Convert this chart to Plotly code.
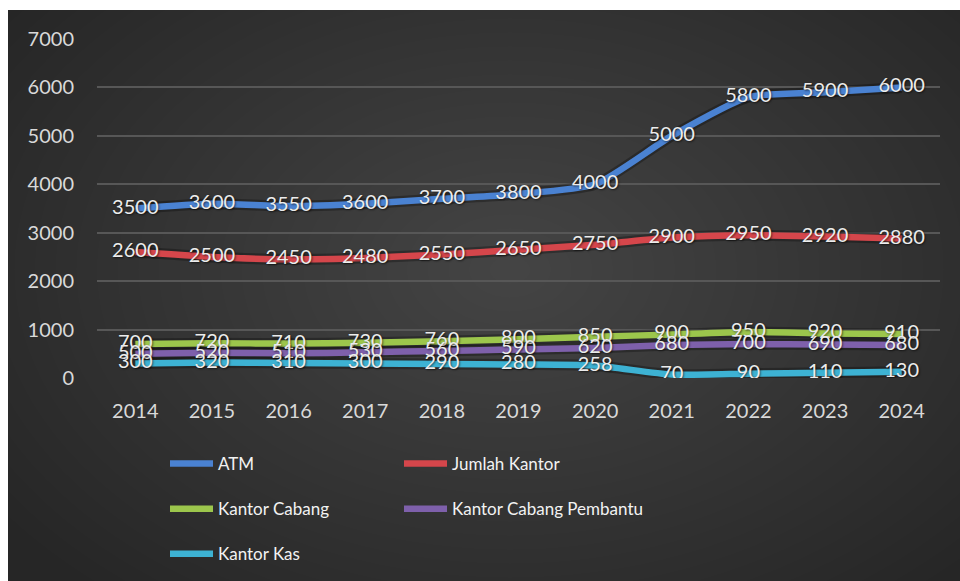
import plotly.graph_objects as go

W, H = 960, 581

years = ["2014", "2015", "2016", "2017", "2018", "2019", "2020", "2021", "2022", "2023", "2024"]
atm = [3500, 3600, 3550, 3600, 3700, 3800, 4000, 5000, 5800, 5900, 6000]
jumlah_kantor = [2600, 2500, 2450, 2480, 2550, 2650, 2750, 2900, 2950, 2920, 2880]
kantor_cabang = [700, 720, 710, 730, 760, 800, 850, 900, 950, 920, 910]
kantor_cabang_pembantu = [500, 520, 510, 530, 560, 590, 620, 680, 700, 690, 680]
kantor_kas = [300, 320, 310, 300, 290, 280, 258, 70, 90, 110, 130]
y_ticks = [0, 1000, 2000, 3000, 4000, 5000, 6000, 7000]

series = [
    ("ATM", atm, "#4a82d2", "legend"),
    ("Jumlah Kantor", jumlah_kantor, "#d5464b", "legend2"),
    ("Kantor Cabang", kantor_cabang, "#9cc64c", "legend"),
    ("Kantor Cabang Pembantu", kantor_cabang_pembantu, "#7e60ab", "legend2"),
    ("Kantor Kas", kantor_kas, "#3db2d3", "legend"),
]

FONT = "Lato, 'Open Sans', sans-serif"
fig = go.Figure()

# shadows
for name, vals, color, lg in series:
    fig.add_trace(go.Scatter(x=years, y=vals, mode="lines",
                             line=dict(color="rgba(0,0,0,0.28)", width=11, shape="spline", smoothing=0.6),
                             showlegend=False, hoverinfo="skip"))
# lines
for name, vals, color, lg in series:
    fig.add_trace(go.Scatter(x=years, y=vals, mode="lines", name=name,
                             line=dict(color=color, width=6.5, shape="spline", smoothing=0.6),
                             legend=lg, legendgroup=name))
# labels on top
for name, vals, color, lg in series:
    fig.add_trace(go.Scatter(x=years, y=vals, mode="text", text=[str(v) for v in vals],
                             textposition="middle center",
                             textfont=dict(family=FONT, size=20, color="#ececec",
                                           shadow="1px 1px 2px rgba(0,0,0,0.6)"),
                             showlegend=False, hoverinfo="skip"))

# background: dark panel with radial glow
shapes = [dict(type="rect", xref="paper", yref="paper", x0=8 / W, x1=1, y0=0, y1=1 - 10 / H,
               fillcolor="#262626", line=dict(width=0), layer="below")]
N = 30
cx, cy = 510, 270
rx, ry = 620, 420
for k in range(N, 0, -1):
    f = k / N
    shapes.append(dict(type="circle", xref="paper", yref="paper",
                       x0=(cx - rx * f) / W, x1=(cx + rx * f) / W,
                       y0=1 - (cy + ry * f) / H, y1=1 - (cy - ry * f) / H,
                       fillcolor="rgba(255,255,255,0.0085)", line=dict(width=0), layer="below"))

fig.update_layout(
    width=W, height=H,
    margin=dict(l=0, r=0, t=0, b=0),
    paper_bgcolor="white",
    plot_bgcolor="rgba(0,0,0,0)",
    shapes=shapes,
    xaxis=dict(type="category", domain=[97 / W, 940 / W], range=[-0.5, 10.5],
               showgrid=False, zeroline=False, showline=False, ticks="",
               tickfont=dict(family=FONT, size=20, color="#d9d9d9"),
               ticklabelstandoff=19, automargin=False),
    yaxis=dict(domain=[1 - 378 / H, 1 - 39 / H], range=[0, 7000], tickvals=y_ticks,
               showgrid=True, gridcolor="#575757", gridwidth=2, zeroline=False,
               showline=False, ticks="",
               tickfont=dict(family=FONT, size=20, color="#d9d9d9"),
               ticklabelstandoff=22, automargin=False),
    legend=dict(x=165 / W, y=1 - 446 / H, xanchor="left", yanchor="top",
                orientation="v", itemwidth=43, tracegroupgap=20,
                bgcolor="rgba(0,0,0,0)", font=dict(family=FONT, size=17, color="#f2f2f2")),
    legend2=dict(x=399 / W, y=1 - 446 / H, xanchor="left", yanchor="top",
                 orientation="v", itemwidth=43, tracegroupgap=20,
                 bgcolor="rgba(0,0,0,0)", font=dict(family=FONT, size=17, color="#f2f2f2")),
    showlegend=True,
)

fig.write_html("out.html")
